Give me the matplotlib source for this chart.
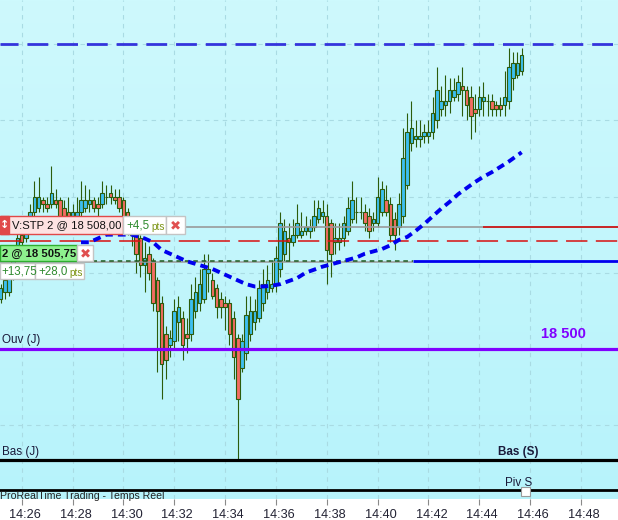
import numpy as np
import matplotlib.pyplot as plt
from matplotlib.patches import Rectangle
from matplotlib.colors import LinearSegmentedColormap
from matplotlib import transforms as mtransforms

# 10-second bars, first bar at 14:25:10 (x axis in minutes after 14:00)
first_bar = 25 + 10 / 60.0
bar_step = 10 / 60.0

opens = [18503.25, 18503.75, 18503.75, 18504.75, 18506.25, 18507.5, 18507.25, 18508.0, 18509.0, 18509.25,
         18509.75, 18509.5, 18509.5, 18509.75, 18509.75, 18509.25, 18509.0, 18508.75, 18508.75, 18509.0,
         18509.25, 18509.5, 18509.75, 18509.5, 18509.5, 18510.0, 18510.25, 18510.0, 18510.0, 18509.75,
         18509.0, 18507.75, 18507.75, 18507.25, 18505.5, 18506.25, 18505.75, 18504.5, 18503.0, 18501.0,
         18500.25, 18500.5, 18501.75, 18502.0, 18501.0, 18501.0, 18502.5, 18503.0, 18503.25, 18505.0,
         18504.5, 18504.0, 18503.25, 18503.0, 18503.0, 18502.0, 18500.75, 18498.75, 18499.75, 18501.0,
         18501.75, 18502.0, 18503.0, 18503.75, 18504.0, 18504.25, 18505.25, 18506.25, 18507.25, 18507.0,
         18507.5, 18507.5, 18507.75, 18507.75, 18508.0, 18508.5, 18508.75, 18508.75, 18508.25, 18507.0,
         18507.0, 18507.25, 18507.75, 18508.5, 18509.0, 18509.0, 18509.0, 18508.75, 18508.25, 18508.25,
         18509.0, 18509.75, 18509.5, 18508.5, 18508.0, 18508.75, 18510.75, 18513.5, 18513.75, 18513.75,
         18514.0, 18514.0, 18514.25, 18515.0, 18515.75, 18516.0, 18516.25, 18516.5, 18516.75, 18517.25,
         18517.0, 18516.5, 18515.75, 18515.75, 18516.25, 18516.25, 18516.25, 18516.0, 18516.0, 18516.0,
         18516.25, 18517.75, 18518.0, 18518.25]
highs = [18504.25, 18504.75, 18505.5, 18506.75, 18507.75, 18507.75, 18508.5, 18509.5, 18511.0, 18511.25,
         18510.0, 18510.0, 18512.0, 18510.5, 18510.0, 18509.75, 18510.0, 18509.5, 18510.0, 18511.0,
         18510.75, 18510.5, 18510.0, 18510.0, 18511.0, 18510.75, 18510.75, 18510.5, 18510.5, 18510.0,
         18509.25, 18508.25, 18508.0, 18507.5, 18507.0, 18506.75, 18506.0, 18504.75, 18503.5, 18501.5,
         18501.25, 18503.25, 18503.5, 18502.5, 18502.0, 18504.25, 18504.75, 18505.25, 18506.25, 18506.25,
         18505.0, 18504.25, 18503.75, 18503.5, 18503.25, 18502.5, 18501.0, 18501.0, 18503.5, 18503.5,
         18503.25, 18504.5, 18505.25, 18505.5, 18505.75, 18506.75, 18509.0, 18508.5, 18508.25, 18508.5,
         18509.5, 18509.0, 18508.75, 18508.5, 18509.75, 18509.75, 18509.75, 18509.5, 18508.5, 18508.25,
         18508.25, 18508.75, 18510.0, 18511.0, 18510.0, 18510.0, 18509.5, 18509.25, 18509.0, 18511.25,
         18511.0, 18510.75, 18510.0, 18509.0, 18510.25, 18514.5, 18515.5, 18516.25, 18515.0, 18515.0,
         18514.75, 18515.0, 18516.5, 18518.5, 18517.25, 18518.0, 18517.75, 18517.75, 18518.0, 18518.5,
         18517.25, 18517.25, 18516.75, 18517.25, 18517.5, 18516.75, 18516.75, 18516.25, 18516.5, 18518.25,
         18519.75, 18519.5, 18519.5, 18519.75]
lows = [18503.0, 18503.25, 18503.5, 18504.5, 18506.0, 18506.75, 18507.0, 18507.75, 18508.75, 18509.0,
        18509.0, 18509.0, 18509.25, 18509.25, 18508.5, 18508.25, 18508.5, 18508.25, 18508.5, 18508.75,
        18509.0, 18509.0, 18509.0, 18508.75, 18509.25, 18509.5, 18509.5, 18509.5, 18509.0, 18508.5,
        18507.5, 18506.75, 18505.0, 18504.75, 18503.75, 18504.5, 18502.5, 18498.5, 18496.75, 18498.0,
        18499.5, 18500.0, 18500.5, 18499.25, 18499.75, 18500.5, 18502.0, 18502.5, 18503.0, 18503.75,
        18503.25, 18502.0, 18502.0, 18501.25, 18500.25, 18498.0, 18492.75, 18498.5, 18499.25, 18500.5,
        18501.25, 18501.75, 18502.5, 18503.25, 18503.75, 18503.75, 18504.75, 18505.75, 18505.75, 18506.75,
        18507.25, 18507.25, 18507.5, 18507.25, 18507.75, 18508.25, 18508.25, 18504.25, 18504.75, 18506.25,
        18506.5, 18506.75, 18507.5, 18508.25, 18508.25, 18508.5, 18507.75, 18507.25, 18507.75, 18508.0,
        18508.75, 18508.75, 18507.0, 18506.5, 18507.5, 18508.25, 18510.5, 18513.0, 18513.25, 18513.25,
        18513.5, 18513.5, 18513.75, 18514.5, 18515.25, 18515.25, 18515.5, 18516.25, 18516.25, 18515.25,
        18515.0, 18513.75, 18514.25, 18515.25, 18515.25, 18515.25, 18515.25, 18515.25, 18515.25, 18515.25,
        18515.75, 18517.0, 18517.75, 18518.0]
closes = [18504.0, 18504.5, 18505.25, 18506.5, 18507.25, 18507.0, 18508.0, 18509.0, 18510.0, 18510.0,
          18509.5, 18509.25, 18510.25, 18509.5, 18508.75, 18508.75, 18508.75, 18509.0, 18509.0, 18509.75,
          18509.75, 18509.75, 18509.25, 18509.25, 18510.25, 18510.0, 18510.0, 18509.75, 18509.25, 18508.75,
          18507.75, 18507.5, 18506.25, 18505.5, 18506.0, 18505.0, 18503.0, 18502.5, 18499.0, 18499.25,
          18500.75, 18502.5, 18502.75, 18500.25, 18500.75, 18503.25, 18503.75, 18504.25, 18505.25, 18505.25,
          18503.5, 18502.75, 18502.75, 18502.75, 18501.0, 18499.5, 18496.75, 18500.5, 18502.25, 18502.5,
          18502.5, 18504.0, 18504.25, 18504.5, 18504.25, 18506.0, 18508.25, 18507.75, 18507.0, 18507.5,
          18508.25, 18507.75, 18508.0, 18508.0, 18508.75, 18509.25, 18509.0, 18506.5, 18506.25, 18507.25,
          18507.25, 18508.25, 18509.25, 18509.75, 18509.0, 18509.0, 18508.25, 18507.75, 18508.5, 18510.0,
          18510.5, 18509.0, 18507.5, 18507.5, 18509.5, 18512.5, 18514.25, 18514.5, 18514.0, 18514.0,
          18514.25, 18514.25, 18515.5, 18517.0, 18516.25, 18516.25, 18517.0, 18517.0, 18517.5, 18517.0,
          18516.0, 18515.25, 18515.5, 18516.5, 18516.5, 18516.25, 18515.75, 18515.75, 18515.75, 18516.5,
          18518.5, 18518.75, 18518.75, 18519.25]

# moving average, read at some bar indices
ma_bar = [19, 21, 23, 25, 28, 31, 34, 36, 38, 40, 42, 44, 47, 50, 52, 54, 56, 58, 60, 62, 64, 66, 68, 70,
          72, 74, 76, 78, 80, 82, 84, 86, 88, 90, 92, 94, 96, 98, 100, 102, 104, 106, 108, 110, 112, 114,
          116, 118, 120, 122, 123]
ma_val = [18507.0, 18507.0, 18507.25, 18507.5, 18507.5, 18507.5, 18507.25, 18507.0, 18506.5, 18506.25,
          18506.0, 18505.75, 18505.5, 18505.25, 18505.0, 18504.75, 18504.5, 18504.25, 18504.1, 18504.1,
          18504.15, 18504.25, 18504.45, 18504.65, 18505.0, 18505.2, 18505.4, 18505.55, 18505.7, 18505.85,
          18506.0, 18506.25, 18506.4, 18506.55, 18506.8, 18507.15, 18507.35, 18507.75, 18508.2, 18508.7,
          18509.2, 18509.65, 18510.15, 18510.55, 18510.95, 18511.3, 18511.6, 18511.95, 18512.3, 18512.7,
          18512.9]

# price levels
level_top = 18520.0       # blue dashed
level_open = 18500.0      # Ouv (J)
level_low_day = 18492.75  # Bas (J)
level_piv = 18490.75      # Piv S
level_stop = 18508.0      # V:STP 2 @ 18 508,00
level_red_dash = 18507.1
level_entry = 18505.75    # 2 @ 18 505,75

tick_min = list(range(26, 50, 2))
tick_lab = ["14:%02d" % m for m in tick_min]

W, H, AX_H = 618, 520, 499
PX_PER_MIN = 25.42
X0 = 26 - 21.7 / PX_PER_MIN
X1 = 26 + (W - 21.7) / PX_PER_MIN
Y_LO, Y_HI = 18490.16, 18522.89

up_c, dn_c, edge_c = "#3cbff0", "#f36c62", "#2c5c0c"
grid_c = "#a9dbe3"

fig = plt.figure(figsize=(W / 100, H / 100), dpi=100)
fig.patch.set_facecolor("white")
ax = fig.add_axes([0, 1 - AX_H / H, 1, AX_H / H])
ax.set_xlim(X0, X1)
ax.set_ylim(Y_LO, Y_HI)
for s in ax.spines.values():
    s.set_visible(False)

# background gradient
cmap = LinearSegmentedColormap.from_list("bg", ["#b7f3fb", "#cef9fd"])
ax.imshow(np.linspace(0, 1, 256).reshape(-1, 1), extent=[X0, X1, Y_LO, Y_HI], origin="lower",
          aspect="auto", cmap=cmap, zorder=0)

# dashed grid
for m in tick_min:
    ax.axvline(m, color=grid_c, lw=0.8, ls=(0, (4, 4)), zorder=1)
for p in range(18495, 18521, 5):
    ax.axhline(p, color=grid_c, lw=0.8, ls=(0, (4, 4)), zorder=1)

# candles
o = np.array(opens); h = np.array(highs); l = np.array(lows); c = np.array(closes)
t = first_bar + np.arange(len(o)) * bar_step
cols = np.where(c >= o, up_c, dn_c)
ax.vlines(t, l, h, color=edge_c, lw=0.8, zorder=3)
ax.bar(t, np.abs(c - o), bottom=np.minimum(o, c), width=0.138, color=cols,
       edgecolor=edge_c, linewidth=0.8, zorder=3.1)

# levels
ax.axhline(level_top, color="#3434dc", lw=2.0, ls=(1, (7.5, 3.2)), zorder=4)
ax.axhline(level_red_dash, color="#d81010", lw=1.1, ls=(0, (14, 5.5)), zorder=4)
ax.hlines(level_stop, X0, 44.15, color="#9a9a9a", lw=1.2, zorder=4)
ax.hlines(level_stop, 44.15, X1, color="#c80000", lw=1.2, zorder=4)
ax.hlines(level_entry - 0.05, X0, 41.39, color="#9a9a9a", lw=1.1, zorder=4)
ax.hlines(level_entry + 0.03, X0, 41.39, color="#1e5a1e", lw=1.1, ls=(0, (3, 2.5)), zorder=4)
ax.hlines(level_entry, 41.39, X1, color="#0000ee", lw=2.0, zorder=4)
ax.axhline(level_open, color="#8000ff", lw=2.3, zorder=5)
ax.axhline(level_low_day, color="black", lw=2.3, zorder=5)
ax.axhline(level_piv, color="black", lw=2.0, zorder=5)

# moving average
ax.plot(first_bar + np.array(ma_bar) * bar_step, ma_val, color="#0000ee", lw=2.8,
        ls=(0, (2.0, 1.3)), solid_capstyle="butt", dash_capstyle="butt", zorder=6)


def ax_pt(x, y):
    return x / W, 1 - y / AX_H


def box(x0, y0, x1, y1, fc, ec, lw=1.0):
    xa, ya = ax_pt(x0, y1)
    ax.add_patch(Rectangle((xa, ya), (x1 - x0) / W, (y1 - y0) / AX_H, transform=ax.transAxes,
                           facecolor=fc, edgecolor=ec, lw=lw, zorder=8))


def label(x, y, s, **kw):
    xa, ya = ax_pt(x, y)
    kw.setdefault("family", "Liberation Sans")
    kw.setdefault("va", "center")
    ax.text(xa, ya, s, transform=ax.transAxes, zorder=9, **kw)


# order widgets
box(0, 216, 123, 234, "#fde2e2", "#e04848")
box(0, 216, 9, 234, "#e04848", "#e04848")
label(4.5, 225, "\u2195", family="DejaVu Sans", color="white", fontsize=8, ha="center", fontweight="bold")
label(12, 225.5, "V:STP 2 @ 18 508,00", fontsize=8.1, color="#111111")
box(123, 216, 166, 234, "white", "#c4c4c4")
label(126, 225.5, "+4,5", fontsize=8.3, color="#2e8b2e")
label(151, 226.5, "pts", fontsize=7.2, color="#7c9414")
box(166, 216, 185, 234, "white", "#c4c4c4")
label(175.5, 225.5, "\u2716", family="DejaVu Sans", fontsize=9.5, color="#e05050", ha="center")

box(0, 245, 77, 261, "#8ef08e", "#2fae2f")
label(2, 253.5, "2 @ 18 505,75", fontsize=8.1, color="#111111", fontweight="bold")
box(77, 245, 93, 261, "white", "#c4c4c4")
label(85, 253.5, "\u2716", family="DejaVu Sans", fontsize=9.5, color="#e05050", ha="center")

box(0, 263, 35, 279, "white", "#c4c4c4")
label(1, 271.5, "+13,75", fontsize=8.3, color="#2e8b2e")
box(35, 263, 84, 279, "white", "#c4c4c4")
label(38, 271.5, "+28,0", fontsize=8.3, color="#2e8b2e")
label(69, 272.5, "pts", fontsize=7.2, color="#7c9414")

# level captions
label(2, 340, "Ouv (J)", fontsize=8.4, color="#1a1a3a")
label(563, 334.5, "18 500", fontsize=10.5, color="#8000ff", fontweight="bold", ha="center")
label(2, 452.5, "Bas (J)", fontsize=8.4, color="#1a1a3a")
label(518.5, 452.5, "Bas (S)", fontsize=8.4, color="#1a1a3a", fontweight="bold", ha="center")
label(518.5, 482.5, "Piv S", fontsize=8.4, color="#1a1a3a", ha="center")
box(521, 487, 530, 496, "white", "#9a9a9a", lw=0.8)
label(0, 495.5, "ProRealTime Trading - Temps R\u00e9el", fontsize=7.6, color="#222222")

# time axis
ax.set_yticks([])
ax.set_xticks(tick_min)
ax.set_xticklabels(tick_lab, family="Liberation Sans", fontsize=9.2, color="#222233")
ax.tick_params(axis="x", length=4, color="#8a8a8a", pad=3)
shift = mtransforms.ScaledTranslation(3 / 100, 0, fig.dpi_scale_trans)
for lab in ax.get_xticklabels():
    lab.set_transform(lab.get_transform() + shift)

fig.savefig("out.png", dpi=100, facecolor="white")
